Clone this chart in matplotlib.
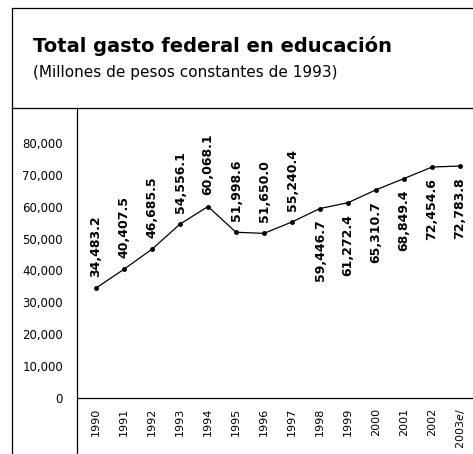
import numpy as np
import matplotlib
matplotlib.use('Agg')
import matplotlib.pyplot as plt
from matplotlib.lines import Line2D
from matplotlib.ticker import FuncFormatter

# datos
years = ['1990', '1991', '1992', '1993', '1994', '1995', '1996', '1997',
         '1998', '1999', '2000', '2001', '2002', r'2003$\mathit{e/}$']
gasto = [34483.2, 40407.5, 46685.5, 54556.1, 60068.1, 51998.6, 51650.0,
         55240.4, 59446.7, 61272.4, 65310.7, 68849.4, 72454.6, 72783.8]
label_above = [True] * 8 + [False] * 6
yticks = list(range(0, 80001, 10000))

W, H = 473, 454
fig = plt.figure(figsize=(W / 100, H / 100), dpi=100)

# marco exterior
fig.add_artist(Line2D([12 / W, 1], [1 - 8 / H, 1 - 8 / H], color='black', lw=0.9))
fig.add_artist(Line2D([12 / W, 12 / W], [0, 1 - 8 / H], color='black', lw=0.9))
fig.add_artist(Line2D([12 / W, 1], [1 - 108 / H, 1 - 108 / H], color='black', lw=0.9))

fig.text(33 / W, 1 - 46 / H, 'Total gasto federal en educación',
         fontsize=14, fontweight='bold', va='center', ha='left')
fig.text(33 / W, 1 - 72 / H, '(Millones de pesos constantes de 1993)',
         fontsize=11, va='center', ha='left')

ax = fig.add_axes([77 / W, 0, (W - 77) / W, (H - 108) / H])
x = np.arange(len(years))
ax.plot(x, gasto, color='black', lw=0.9, marker='o', markersize=2.5)

ax.set_xlim(-19 / 28, (W - 77) / 28 - 19 / 28)
ax.set_ylim(-(H - 398) / 31.875 * 10000, (398 - 108) / 31.875 * 10000)
ax.axhline(0, color='black', lw=0.9)

for s in ['top', 'right', 'bottom']:
    ax.spines[s].set_visible(False)
ax.spines['left'].set_linewidth(0.9)

ax.set_xticks([])
ax.set_yticks(yticks)
ax.yaxis.set_major_formatter(FuncFormatter(lambda v, p: f'{int(v):,}'))
ax.tick_params(axis='y', length=0, pad=10, labelsize=8.5)

for i, v in enumerate(gasto):
    if label_above[i]:
        ax.annotate(f'{v:,.1f}', (i, v), xytext=(0, 8), textcoords='offset points',
                    rotation=90, ha='center', va='bottom', fontsize=9, fontweight='bold')
    else:
        ax.annotate(f'{v:,.1f}', (i, v), xytext=(0, -8), textcoords='offset points',
                    rotation=90, ha='center', va='top', fontsize=9, fontweight='bold')

for i, yr in enumerate(years):
    ax.annotate(yr, (i, 0), xytext=(0, -7), textcoords='offset points',
                rotation=90, ha='center', va='top', fontsize=8)

fig.savefig('out.png', dpi=100)
